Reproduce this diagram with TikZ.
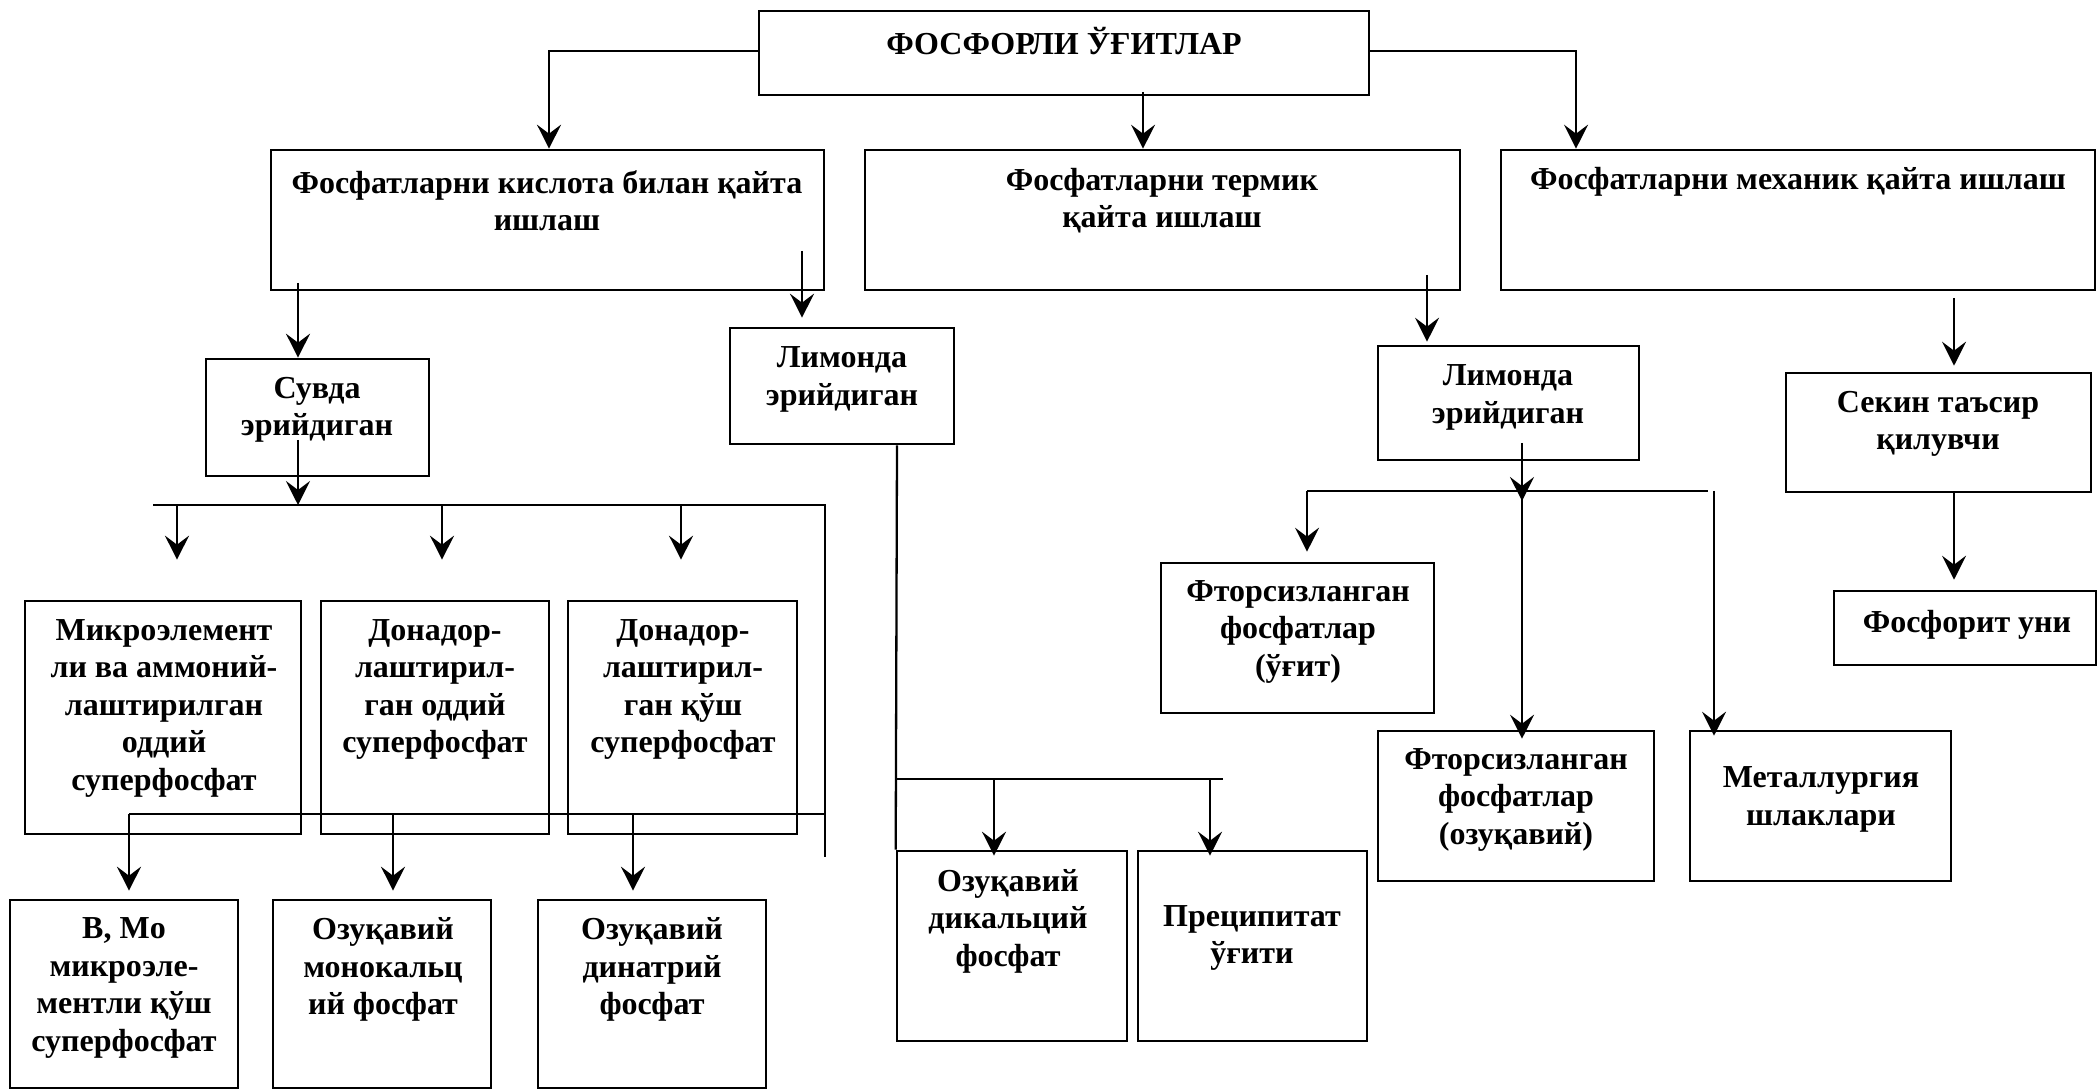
\documentclass[tikz,border=0pt]{standalone}
\usepackage{fontspec}
\setmainfont{Liberation Serif}
\usetikzlibrary{arrows.meta,fit}
\begin{document}
\begin{tikzpicture}[x=0.5pt,y=-0.5pt,
  box/.style={draw, line width=1.3pt, rectangle, inner sep=0pt},
  txt/.style={align=center, font=\fontsize{16}{18.75}\selectfont\bfseries, inner sep=0pt},
  conn/.style={line width=1.15pt},
  arr/.style={conn, -{Stealth[length=12pt,width=12pt,inset=4.5pt]}}]
\useasboundingbox (0,0) rectangle (2098,1090);

% boxes
\node[box, fit={(759,11) (1369,95)}] (top) {};
\node[box, fit={(271,150) (824,290)}] (A) {};
\node[box, fit={(865,150) (1460,290)}] (B) {};
\node[box, fit={(1501,150) (2095,290)}] (C) {};
\node[box, fit={(206,359) (429,476)}] (S) {};
\node[box, fit={(730,328) (954,444)}] (L1) {};
\node[box, fit={(1378,346) (1639,460)}] (L2) {};
\node[box, fit={(1786,373) (2091,492)}] (K) {};
\node[box, fit={(25,601) (301,834)}] (M1) {};
\node[box, fit={(321,601) (549,834)}] (D1) {};
\node[box, fit={(568,601) (797,834)}] (D2) {};
\node[box, fit={(10,900) (238,1088)}] (R1) {};
\node[box, fit={(273,900) (491,1088)}] (R2) {};
\node[box, fit={(538,900) (766,1088)}] (R3) {};
\node[box, fit={(897,851) (1127,1041)}] (O1) {};
\node[box, fit={(1138,851) (1367,1041)}] (P) {};
\node[box, fit={(1161,563) (1434,713)}] (F1) {};
\node[box, fit={(1378,731) (1654,881)}] (F2) {};
\node[box, fit={(1690,731) (1951,881)}] (Met) {};
\node[box, fit={(1834,591) (2096,665)}] (FU) {};

% texts
\node[txt] (topt) at (1064,41) {ФОСФОРЛИ ЎҒИТЛАР};
\node[txt] (At) at (547,200.5) {Фосфатларни кислота билан қайта\\ишлаш};
\node[txt] (Bt) at (1162,200.5) {Фосфатларни термик\\қайта ишлаш};
\node[txt] (Ct) at (1798,182) {Фосфатларни механик қайта ишлаш};
\node[txt] (St) at (317,410) {Сувда\\эрийдиган};
\node[txt] (L1t) at (842,379.5) {Лимонда\\эрийдиган};
\node[txt] (L2t) at (1508,397.5) {Лимонда\\эрийдиган};
\node[txt] (Kt) at (1938,424) {Секин таъсир\\қилувчи};
\node[txt] (M1t) at (164,708) {Микроэлемент\\ли ва аммоний-\\лаштирилган\\оддий\\суперфосфат};
\node[txt] (D1t) at (435,689.5) {Донадор-\\лаштирил-\\ган оддий\\суперфосфат};
\node[txt] (D2t) at (683,689.5) {Донадор-\\лаштирил-\\ган қўш\\суперфосфат};
\node[txt] (R1t) at (124,988) {B, Mo\\микроэле-\\ментли қўш\\суперфосфат};
\node[txt] (R2t) at (383,969.5) {Озуқавий\\монокальц\\ий фосфат};
\node[txt] (R3t) at (652,969.5) {Озуқавий\\динатрий\\фосфат};
\node[txt] (O1t) at (1008,921) {Озуқавий\\дикальций\\фосфат};
\node[txt] (Pt) at (1252,938) {Преципитат\\ўғити};
\node[txt] (F1t) at (1298,631.5) {Фторсизланган\\фосфатлар\\(ўғит)};
\node[txt] (F2t) at (1516,799.5) {Фторсизланган\\фосфатлар\\(озуқавий)};
\node[txt] (Mt) at (1821,799.5) {Металлургия\\шлаклари};
\node[txt] (FUt) at (1967,625) {Фосфорит уни};

% coordinates
\coordinate (t1) at (549,51);
\coordinate (t2) at (1143,92);
\coordinate (t3) at (1576,51);
\coordinate (a1) at (298,283);
\coordinate (a2) at (802,251);
\coordinate (s1) at (298,440);
\coordinate (s1e) at (298,505);
\coordinate (b1l) at (153,505);
\coordinate (b1r) at (825,505);
\coordinate (b1e) at (825,857);
\coordinate (d1) at (177,505);
\coordinate (d2) at (442,505);
\coordinate (d3) at (681,505);
\coordinate (b2l) at (129,814);
\coordinate (b2r) at (825,814);
\coordinate (e2) at (393,814);
\coordinate (e3) at (633,814);
\coordinate (l1) at (897,779);
\coordinate (l1r) at (1223,779);
\coordinate (g1) at (994,779);
\coordinate (g2) at (1210,779);
\coordinate (bb) at (1427,275);
\coordinate (l2) at (1522,443);
\coordinate (l2t) at (1522,501);
\coordinate (l2b) at (1522,491);
\coordinate (b4l) at (1307,491);
\coordinate (b4r) at (1708,491);
\coordinate (m1) at (1714,491);
\coordinate (c1) at (1954,298);

% connectors
\draw[arr] (top.west |- t1) -- (t1) -- (t1 |- A.north);
\draw[arr] (t2) -- (t2 |- B.north);
\draw[arr] (top.east |- t3) -- (t3) -- (t3 |- C.north);

\draw[arr] (a1) -- (a1 |- S.north);
\draw[arr, shorten >=4.5pt] (a2) -- (a2 |- L1.north);

\draw[arr] (s1) -- (s1e);
\draw[conn] (b1l) -- (b1r) -- (b1e);
\draw[arr, shorten >=20pt] (d1) -- (d1 |- M1.north);
\draw[arr, shorten >=20pt] (d2) -- (d2 |- D1.north);
\draw[arr, shorten >=20pt] (d3) -- (d3 |- D2.north);

\draw[conn] (b2l) -- (b2r);
\draw[arr, shorten >=4pt] (b2l) -- (b2l |- R1.north);
\draw[arr, shorten >=4pt] (e2) -- (e2 |- R2.north);
\draw[arr, shorten >=4pt] (e3) -- (e3 |- R3.north);

\draw[conn] (L1.south -| l1) -- (O1.north west);
\draw[conn] (l1) -- (l1r);
\draw[arr, shorten >=-3pt] (g1) -- (g1 |- O1.north);
\draw[arr, shorten >=-3pt] (g2) -- (g2 |- P.north);

\draw[arr, shorten >=1.5pt] (bb) -- (bb |- L2.north);
\draw[arr] (l2) -- (l2t);
\draw[arr, shorten >=-4.5pt] (l2b) -- (l2b |- F2.north);
\draw[conn] (b4l) -- (b4r);
\draw[arr, shorten >=5pt] (b4l) -- (b4l |- F1.north);
\draw[arr, shorten >=-3pt] (m1) -- (m1 |- Met.north);

\draw[arr, shorten >=3pt] (c1) -- (c1 |- K.north);
\draw[arr, shorten >=5pt] (c1 |- K.south) -- (c1 |- FU.north);
\end{tikzpicture}
\end{document}
